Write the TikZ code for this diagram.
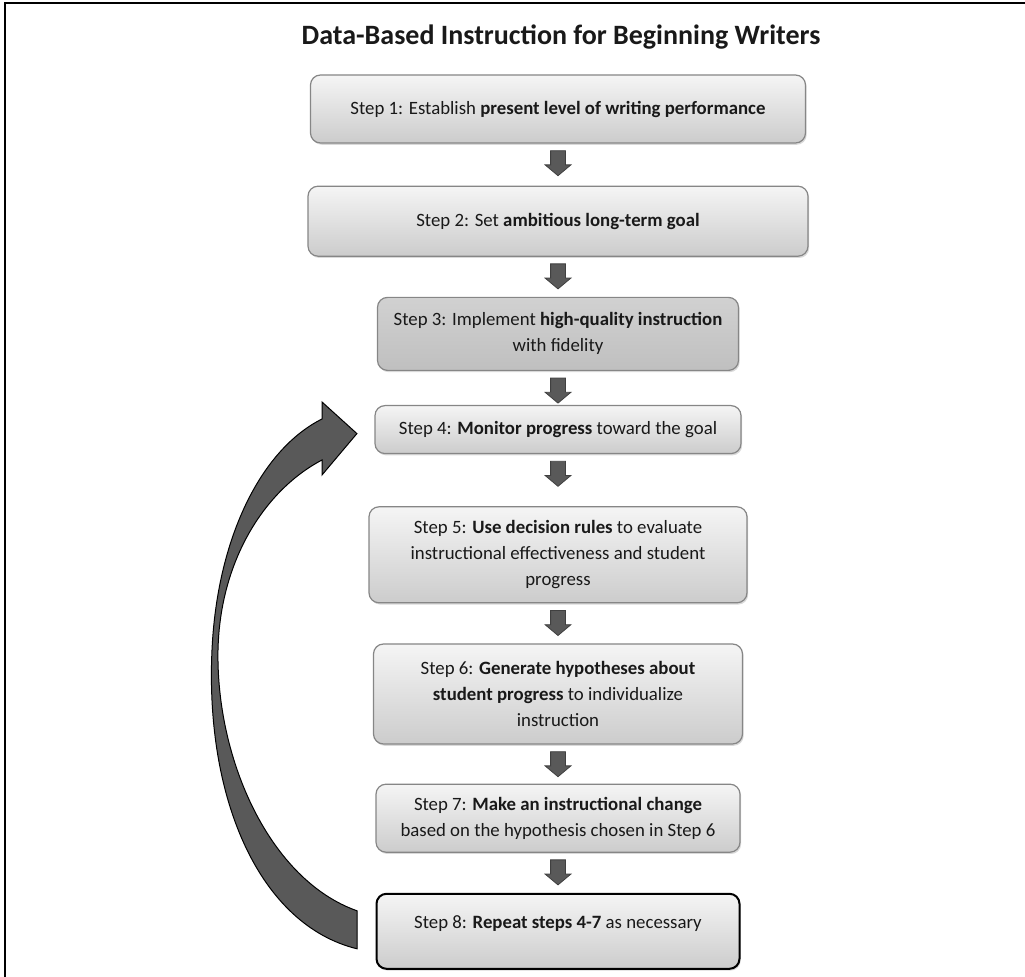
\documentclass[tikz,border=0pt]{standalone}
\usepackage{fontspec}
\setmainfont{Carlito}
\usepackage{xcolor}
\colorlet{BOXTOP}{gray!8}
\colorlet{BOXBOTTOM}{gray!40}
\colorlet{FOCUSTOP}{gray!36}
\colorlet{FOCUSBOTTOM}{gray!50}
\colorlet{BOXLINE}{gray!95}
\colorlet{ARROWFILL}{black!65}
\colorlet{TEXTCOLOR}{black!90}
\usepackage{tikz}
\usetikzlibrary{shapes.arrows,positioning,calc,shadows}
\tikzset{
  basic-style/.style = {
    rectangle, rounded corners=5pt, draw=BOXLINE, line width=0.6pt,
    top color=#1TOP, bottom color=#1BOTTOM,
    drop shadow={shadow xshift=0.6pt, shadow yshift=-0.9pt, opacity=0.3},
    align=center, inner sep=3pt, text=TEXTCOLOR,
    font=\fontsize{9.4}{13}\selectfont
  },
  step-style/.style = {
    basic-style=BOX
  },
  focus-style/.style = {
    basic-style=FOCUS
  },
  last-style/.style = {
    basic-style=BOX, draw=black, line width=1pt, text depth=9.5pt
  },
  flow-style/.style = {
    single arrow, shape border rotate=270,
    minimum height=12.5pt, minimum width=12.5pt,
    single arrow head extend=2.75pt, single arrow tip angle=100,
    inner sep=3.5pt, fill=ARROWFILL, draw=black!75, line width=0.4pt
  },
  loop-style/.style = {
    fill=ARROWFILL, draw=black, line width=0.5pt
  },
  title-style/.style = {
    font=\fontsize{14}{16}\selectfont\bfseries, text=TEXTCOLOR, inner sep=0pt
  }
}
\def\createStep name:#1 style:#2 gap:#3 to:#4 size:#5/#6 text:#7;{
  \node [#2, minimum width=#5, minimum height=#6, below=#3 of #4] (#1) {#7};
  \node [flow-style] (#4-#1) at ([yshift=-8.25pt]#4.south) {};
}

\begin{document}
\begin{tikzpicture}[x=0.5pt,y=-0.5pt]
  \useasboundingbox (0,0) rectangle (1025,977);
  % frame of the figure
  \draw[line width=0.8pt] (5,977) -- (5,3) -- (1025,3);

  \node[title-style, anchor=base] (title) at (561,45)
    {Data-Based Instruction for Beginning Writers};

  \node[step-style, minimum width=247.5pt, minimum height=34pt] (step1) at (558,109)
    {Step 1: Establish \textbf{present level of writing performance}};
  \createStep name:step2 style:step-style gap:21pt to:step1 size:250pt/35pt
    text:{Step 2: Set \textbf{ambitious long-term goal}};
  \createStep name:step3 style:focus-style gap:20pt to:step2 size:180.5pt/36.5pt
    text:{Step 3: Implement \textbf{high-quality instruction}\\with fidelity};
  \createStep name:step4 style:step-style gap:17pt to:step3 size:183pt/24pt
    text:{Step 4: \textbf{Monitor progress} toward the goal};
  \createStep name:step5 style:step-style gap:26pt to:step4 size:189pt/48pt
    text:{Step 5: \textbf{Use decision rules} to evaluate\\instructional effectiveness and student\\progress};
  \createStep name:step6 style:step-style gap:20pt to:step5 size:184.5pt/50pt
    text:{Step 6: \textbf{Generate hypotheses about}\\\textbf{student progress} to individualize\\instruction};
  \createStep name:step7 style:step-style gap:19.5pt to:step6 size:182pt/34pt
    text:{Step 7: \textbf{Make an instructional change}\\based on the hypothesis chosen in Step 6};
  \createStep name:step8 style:last-style gap:20pt to:step7 size:181.5pt/37.5pt
    text:{Step 8: \textbf{Repeat steps 4-7} as necessary};

  % loop back from step 8 to step 4
  \coordinate (loop-tail) at ([xshift=-9.25pt]step8.west);
  \coordinate (loop-tip) at ([xshift=-8.75pt,yshift=-2pt]step4.west);
  \path[loop-style] ([yshift=-8.75pt]loop-tail)
    .. controls (260,925) and (205,800) .. (212,650)
    .. controls (217,540) and (260,450) .. (322,419)
    -- (322,402) -- (loop-tip) -- (322,475) -- (322,460)
    .. controls (265,490) and (220,560) .. (218,650)
    .. controls (216,760) and (270,880) .. ([yshift=10.25pt]loop-tail)
    -- cycle;
\end{tikzpicture}
\end{document}
